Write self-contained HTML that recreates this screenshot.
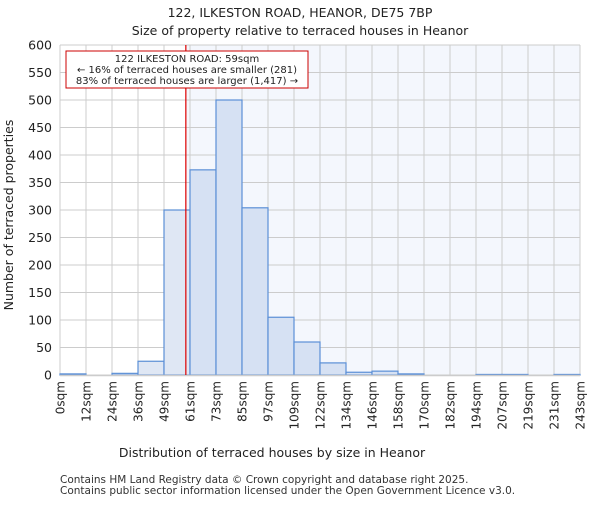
<!DOCTYPE html>
<html><head><meta charset="utf-8"><style>
body{margin:0;background:#fff;font-family:"Liberation Sans","DejaVu Sans",sans-serif}
</style></head><body>
<svg width="600" height="500" xmlns="http://www.w3.org/2000/svg" font-family="DejaVu Sans, Liberation Sans, sans-serif">
<text x="300" y="17" text-anchor="middle" font-size="12.5" fill="#222">122, ILKESTON ROAD, HEANOR, DE75 7BP</text>
<text x="300" y="35" text-anchor="middle" font-size="12.5" fill="#222">Size of property relative to terraced houses in Heanor</text>
<g id="plot"></g>
<text x="272" y="457" text-anchor="middle" font-size="12.5" fill="#222">Distribution of terraced houses by size in Heanor</text>
<text transform="translate(13,215) rotate(-90)" text-anchor="middle" font-size="12.5" fill="#222">Number of terraced properties</text>
<text x="60" y="483" font-size="10.5" fill="#333">Contains HM Land Registry data © Crown copyright and database right 2025.</text>
<text x="60" y="494" font-size="10.5" fill="#333">Contains public sector information licensed under the Open Government Licence v3.0.</text>
</svg>
<script>
const categories=["0sqm","12sqm","24sqm","36sqm","49sqm","61sqm","73sqm","85sqm","97sqm","109sqm","122sqm","134sqm","146sqm","158sqm","170sqm","182sqm","194sqm","207sqm","219sqm","231sqm","243sqm"];
const counts=[2,0,3,25,300,373,500,304,105,60,22,5,7,2,0,0,1,1,0,1];
const yTicks=[0,50,100,150,200,250,300,350,400,450,500,550,600];
const propertyBinPos=4.84;
const NS="http://www.w3.org/2000/svg";
const g=document.getElementById('plot');
const X0=60,X1=580,Y0=375,Y1=45,nb=counts.length;
const xs=i=>X0+(X1-X0)*i/nb;
const ys=v=>Y0-(Y0-Y1)*v/600;
function mk(t,a){const e=document.createElementNS(NS,t);for(const k in a)e.setAttribute(k,a[k]);g.appendChild(e);return e;}
const rx=xs(propertyBinPos);
let bg=mk('rect',{x:rx,y:Y1,width:X1-rx,height:Y0-Y1,fill:'#f4f7fd'});


yTicks.forEach(v=>{
 let l=mk('line',{x1:X0,x2:X1,y1:ys(v),y2:ys(v),stroke:'#ccc','stroke-width':1});
 
 
 let t=mk('text',{x:X0-8,y:ys(v)+4.5,'text-anchor':'end','font-size':12.5,fill:'#222'});
 t.textContent=v;
 
 
});
categories.forEach((c,i)=>{
 let l=mk('line',{x1:xs(i),x2:xs(i),y1:Y1,y2:Y0,stroke:'#ccc','stroke-width':1});
 
 
 let t=mk('text',{transform:`translate(${xs(i)+4.5},${Y0+6}) rotate(-90)`,'text-anchor':'end','font-size':12,fill:'#222'});
 t.textContent=c;
 
 
});
counts.forEach((v,i)=>{
 let r=mk('rect',{x:xs(i),y:ys(v),width:xs(1)-xs(0),height:Y0-ys(v),fill:i<propertyBinPos?'#dfe7f4':'#d6e1f3',stroke:'#5b8fd6','stroke-width':1.2});
 
 
});
let ax=mk('line',{x1:X0,x2:X1,y1:Y0+0.5,y2:Y0+0.5,stroke:'#ccc','stroke-width':1.5});


let rl=mk('line',{x1:rx,x2:rx,y1:Y1,y2:Y0,stroke:'#d00','stroke-width':1.2});


let box=mk('rect',{x:66,y:51,width:242,height:37,fill:'#fff',stroke:'#c00','stroke-width':1});


["122 ILKESTON ROAD: 59sqm","← 16% of terraced houses are smaller (281)","83% of terraced houses are larger (1,417) →"].forEach((s,i)=>{
 let t=mk('text',{x:187,y:62+i*11,'text-anchor':'middle','font-size':10,fill:'#222'});
 t.textContent=s;
 
 
});
</script>
</body></html>
